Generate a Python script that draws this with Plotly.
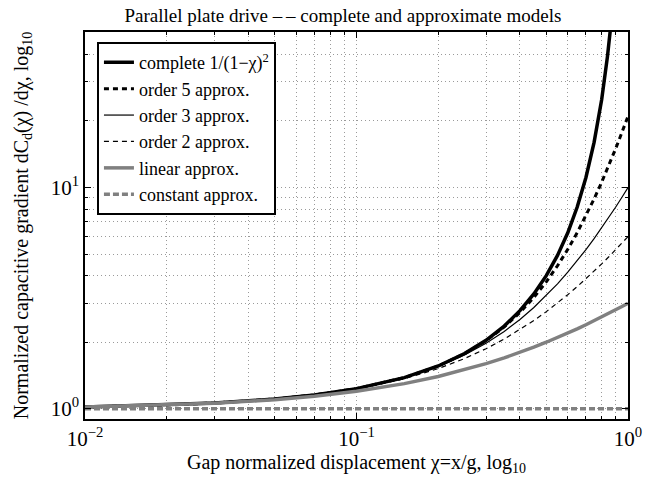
import plotly.graph_objects as go

# Sample positions (gap-normalized displacement chi)
x_pts = [0.01, 0.02, 0.03, 0.05, 0.07, 0.1, 0.15, 0.2, 0.25, 0.3, 0.35, 0.4,
         0.45, 0.5, 0.55, 0.6, 0.65, 0.7, 0.75, 0.8, 0.85, 0.9, 0.95, 1.0]
x_complete = [0.01, 0.02, 0.03, 0.05, 0.07, 0.1, 0.15, 0.2, 0.25, 0.3, 0.35, 0.4,
              0.45, 0.5, 0.55, 0.6, 0.65, 0.7, 0.75, 0.8, 0.82, 0.84, 0.86, 0.88]

y_complete = [1.0203, 1.0412, 1.0628, 1.1080, 1.1562, 1.2346, 1.3841, 1.5625, 1.7778,
              2.0408, 2.3669, 2.7778, 3.3058, 4.0, 4.9383, 6.25, 8.1633, 11.111, 16.0,
              25.0, 30.864, 39.0625, 51.02, 69.44]
y_order5 = [1.0203, 1.0412, 1.0628, 1.1080, 1.1562, 1.2346, 1.3840, 1.5619, 1.7754,
            2.0331, 2.3455, 2.7254, 3.1878, 3.75, 4.4325, 5.2586, 6.2547, 7.4509, 8.8809,
            10.582, 12.596, 14.969, 17.752, 21.0]
y_order3 = [1.0203, 1.0412, 1.0628, 1.1080, 1.1561, 1.234, 1.381, 1.552, 1.75,
            1.978, 2.239, 2.536, 2.872, 3.25, 3.673, 4.144, 4.666, 5.242, 5.875,
            6.568, 7.324, 8.146, 9.037, 10.0]
y_order2 = [1.0203, 1.0412, 1.0627, 1.1075, 1.1547, 1.23, 1.3675, 1.52, 1.6875,
            1.87, 2.0675, 2.28, 2.5075, 2.75, 3.0075, 3.28, 3.5675, 3.87, 4.1875,
            4.52, 4.8675, 5.23, 5.6075, 6.0]
y_linear = [1.02, 1.04, 1.06, 1.1, 1.14, 1.2, 1.3, 1.4, 1.5, 1.6, 1.7, 1.8,
            1.9, 2.0, 2.1, 2.2, 2.3, 2.4, 2.5, 2.6, 2.7, 2.8, 2.9, 3.0]
y_constant = [1.0] * len(x_pts)

names = ["complete 1/(1\u2212\u03c7)<sup>2</sup>", "order 5 approx.", "order 3 approx.",
         "order 2 approx.", "linear approx.", "constant approx."]

x_tickvals = [0.01, 0.1, 1]
x_ticktext = ["10<sup>\u22122</sup>", "10<sup>\u22121</sup>", "10<sup>0</sup>"]
y_tickvals = [1, 10]
y_ticktext = ["10<sup>0</sup>", "10<sup>1</sup>"]
x_minor = [0.02, 0.03, 0.04, 0.05, 0.06, 0.07, 0.08, 0.09,
           0.2, 0.3, 0.4, 0.5, 0.6, 0.7, 0.8, 0.9]
y_minor = [2, 3, 4, 5, 6, 7, 8, 9, 20, 30, 40, 50]

FONT = "Times New Roman, Liberation Serif, serif"
GRAY = "#808080"
GRID = "#9a9a9a"

fig = go.Figure()
fig.add_trace(go.Scatter(x=x_complete, y=y_complete, name=names[0], mode="lines",
                         line=dict(color="black", width=3.5)))
fig.add_trace(go.Scatter(x=x_pts, y=y_order5, name=names[1], mode="lines",
                         line=dict(color="black", width=3, dash="5px,4px")))
fig.add_trace(go.Scatter(x=x_pts, y=y_order3, name=names[2], mode="lines",
                         line=dict(color="black", width=1.2)))
fig.add_trace(go.Scatter(x=x_pts, y=y_order2, name=names[3], mode="lines",
                         line=dict(color="black", width=1.2, dash="5px,4px")))
fig.add_trace(go.Scatter(x=x_pts, y=y_linear, name=names[4], mode="lines",
                         line=dict(color=GRAY, width=3.5)))
fig.add_trace(go.Scatter(x=x_pts, y=y_constant, name=names[5], mode="lines",
                         line=dict(color=GRAY, width=3.5, dash="6px,3px")))

axis_common = dict(
    showline=True, linecolor="black", linewidth=1.5, mirror="allticks",
    ticks="inside", ticklen=6, tickcolor="black",
    showgrid=True, gridcolor=GRID, griddash="1px,3px", gridwidth=1,
    zeroline=False, automargin=False,
    tickfont=dict(family=FONT, size=21, color="black"),
)
minor_common = dict(tickmode="array", ticks="inside", ticklen=3, tickcolor="black",
                    showgrid=True, gridcolor=GRID, griddash="1px,3px", gridwidth=1)

fig.update_xaxes(type="log", range=[-2, 0], tickmode="array",
                 tickvals=x_tickvals, ticktext=x_ticktext,
                 minor=dict(tickvals=x_minor, **minor_common),
                 title=dict(text="Gap normalized displacement \u03c7=x/g, log<sub>10</sub>",
                            font=dict(family=FONT, size=20, color="black"), standoff=4),
                 **axis_common)
fig.update_yaxes(type="log", range=[-0.0458, 1.703], tickmode="array",
                 tickvals=y_tickvals, ticktext=y_ticktext,
                 minor=dict(tickvals=y_minor, **minor_common),
                 title=dict(text="Normalized capacitive gradient dC<sub>d</sub>(\u03c7) /d\u03c7, log<sub>10</sub>",
                            font=dict(family=FONT, size=20, color="black"), standoff=17),
                 **axis_common)

# the page body has an 8px margin, so the figure is sized to fit the window
fig.update_layout(
    width=656, height=471,
    margin=dict(l=77, r=36, t=24, b=60),
    paper_bgcolor="white", plot_bgcolor="white",
    title=dict(text="Parallel plate drive \u2013\u2009\u2013 complete and approximate models",
               font=dict(family=FONT, size=19, color="black"),
               x=0.475, xanchor="center", xref="paper",
               y=1, yref="paper", yanchor="bottom", pad=dict(b=10)),
    font=dict(family=FONT, color="black"),
    legend=dict(x=0.022, y=0.974, xanchor="left", yanchor="top",
                bgcolor="white", bordercolor="black", borderwidth=2,
                font=dict(family=FONT, size=18, color="black"),
                itemwidth=30, tracegroupgap=0),
    showlegend=True,
)

fig.write_html("out.html")
